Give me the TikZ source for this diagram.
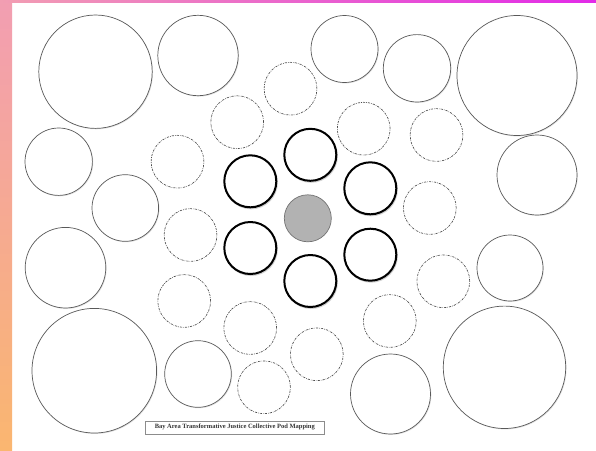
\documentclass[tikz,border=0pt]{standalone}
\usepackage{fontspec}
\setmainfont{Liberation Serif}
\definecolor{stripTop}{RGB}{242,158,178}
\definecolor{stripBot}{RGB}{250,182,112}
\definecolor{barRight}{RGB}{226,42,232}
\begin{document}
\begin{tikzpicture}[x=1pt,y=-1pt,
  bigc/.style={draw=black!65,line width=0.7pt,fill=white},
  dashc/.style={draw=black!70,line width=0.65pt,dash pattern=on 2.2pt off 1.1pt on 0.6pt off 1.1pt},
  boldc/.style={draw=black,line width=2pt,fill=white},
  hubc/.style={draw=black!55,line width=0.7pt,fill=black!30},
  titlebox/.style={draw=black!45,line width=0.5pt,fill=white,minimum width=179pt,minimum height=13.3pt,inner sep=0pt,font=\bfseries\fontsize{6.5}{7}\selectfont,text=black!80}]
\useasboundingbox (0,0) rectangle (596,450);
% background strips
\fill[white] (0,0) rectangle (596,450);
\shade[top color=stripTop,bottom color=stripBot] (0,0) rectangle (12,450);
\shade[left color=stripTop,right color=barRight] (0,0) rectangle (596,2);
% large solid circles
\foreach \n/\cx/\cy/\r in {a/95.5/71.7/56.7, b/198/55.5/40.2, c/517/75.5/60, d/417/68.3/33.7, e/344.5/49/33.5,
  f/537/175/40, g/58.7/161.7/33.7, h/125.3/208/33.3, i/65.5/267.7/40.3, j/94.3/370.7/62.3,
  k/198/374/33.3, l/390.5/394/40, m/510/268/33, o/504.5/367.3/61.2}{
  \fill[black!12] (\cx+0.8,\cy+0.9) circle (\r);
  \node[bigc,circle,minimum size=2*\r pt,inner sep=0pt] (s\n) at (\cx,\cy) {};
}
% dashed circles
\foreach \n/\cx/\cy in {1/290.5/88.7, 2/237.2/122.2, 3/177.5/161.7, 4/363.7/128.7, 5/436.5/135,
  6/429.8/208, 7/190.5/235, 8/184.2/301, 9/250.2/328, 10/316.8/354.3, 11/264/387.3,
  12/443.3/281.3, 13/389.8/321}{
  \node[dashc,circle,minimum size=52.8pt,inner sep=0pt] (d\n) at (\cx,\cy) {};
}
% bold inner ring
\foreach \n/\cx/\cy in {t/310.3/154.8, ul/250.3/181.3, ur/370.3/188.3, ll/250.3/248, lr/370.3/254.7, bt/310.3/281}{
  \fill[black!18] (\cx+0.8,\cy+1.2) circle (26.8);
  \node[boldc,circle,minimum size=52pt,inner sep=0pt] (b\n) at (\cx,\cy) {};
}
\node[hubc,circle,minimum size=47pt,inner sep=0pt] (hub) at (307.8,218.3) {};
% title
\node[titlebox] (title) at (234.8,427.4) {Bay Area Transformative Justice Collective Pod Mapping};
\end{tikzpicture}
\end{document}
